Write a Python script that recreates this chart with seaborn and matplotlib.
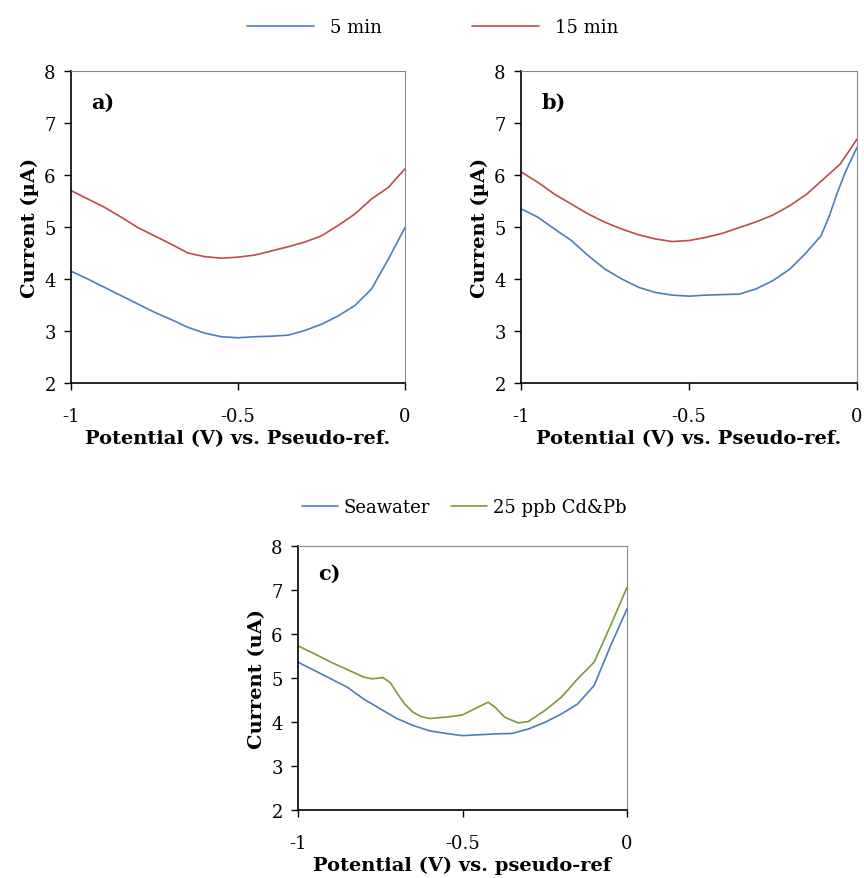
import matplotlib
matplotlib.use("Agg")
import matplotlib.pyplot as plt
import seaborn as sns
import pandas as pd

# potential grid used for the readings (V)
x_std = [-1.0, -0.95, -0.9, -0.85, -0.8, -0.75, -0.7, -0.65, -0.6, -0.55, -0.5,
         -0.45, -0.4, -0.35, -0.3, -0.25, -0.2, -0.15, -0.1, -0.05, 0.0]

# panel a)
a_5min = [4.15, 4.00, 3.84, 3.68, 3.52, 3.36, 3.22, 3.07, 2.96, 2.89, 2.87,
          2.89, 2.90, 2.92, 3.01, 3.13, 3.29, 3.49, 3.81, 4.38, 4.99]
a_15min = [5.70, 5.54, 5.38, 5.19, 4.99, 4.83, 4.67, 4.50, 4.43, 4.40, 4.42,
           4.46, 4.54, 4.62, 4.71, 4.83, 5.03, 5.25, 5.54, 5.76, 6.12]

# panel b)
x_b5 = [-1.0, -0.95, -0.9, -0.85, -0.8, -0.75, -0.7, -0.65, -0.6, -0.55, -0.5,
        -0.45, -0.4, -0.35, -0.3, -0.25, -0.2, -0.155, -0.107, -0.082, -0.058, -0.033, 0.0]
b_5min = [5.35, 5.19, 4.96, 4.74, 4.45, 4.19, 4.00, 3.84, 3.74, 3.69, 3.67,
          3.69, 3.70, 3.71, 3.81, 3.97, 4.19, 4.48, 4.83, 5.22, 5.67, 6.08, 6.53]
b_15min = [6.06, 5.86, 5.63, 5.44, 5.25, 5.09, 4.96, 4.85, 4.77, 4.72, 4.74,
           4.80, 4.88, 4.99, 5.10, 5.23, 5.41, 5.63, 5.92, 6.21, 6.69]

# panel c)
c_sea = [5.36, 5.17, 4.98, 4.79, 4.52, 4.30, 4.08, 3.92, 3.80, 3.74, 3.69,
         3.71, 3.73, 3.74, 3.84, 3.99, 4.18, 4.41, 4.83, 5.73, 6.57]
x_c_spk = [-1.0, -0.95, -0.9, -0.85, -0.8, -0.775, -0.742, -0.72, -0.7, -0.676, -0.65,
           -0.625, -0.6, -0.55, -0.5, -0.463, -0.422, -0.4, -0.372, -0.331, -0.3,
           -0.25, -0.2, -0.15, -0.1, -0.05, 0.0]
c_spk = [5.73, 5.55, 5.36, 5.19, 5.02, 4.98, 5.01, 4.90, 4.67, 4.41, 4.22,
         4.12, 4.08, 4.11, 4.16, 4.30, 4.45, 4.33, 4.11, 3.98, 4.01,
         4.26, 4.56, 4.98, 5.36, 6.19, 7.06]

BLUE = "#4A7EBB"
RED = "#BE4B48"
GREEN = "#7A9A3A"

sns.set_style("ticks")
plt.rcParams["font.family"] = ["DejaVu Serif"]
plt.rcParams["text.color"] = "black"
plt.rcParams["axes.labelcolor"] = "black"
plt.rcParams["xtick.color"] = "black"
plt.rcParams["ytick.color"] = "black"

fig = plt.figure(figsize=(8.64, 8.79), dpi=100)

ax_a = fig.add_axes([71 / 864, 1 - 384 / 879, 334 / 864, 312 / 879])
ax_b = fig.add_axes([521 / 864, 1 - 384 / 879, 336 / 864, 312 / 879])
ax_c = fig.add_axes([298 / 864, 1 - 811 / 879, 329 / 864, 264 / 879])


def panel(ax, series, tag, ylab, xlab):
    for xs, ys, color, name in series:
        df = pd.DataFrame({"x": xs, "y": ys})
        sns.lineplot(data=df, x="x", y="y", ax=ax, color=color, lw=1.2, label=name)
    ax.set_xlim(-1, 0)
    ax.set_ylim(2, 8)
    ax.set_xticks([-1, -0.5, 0])
    ax.set_xticklabels(["-1", "-0.5", "0"])
    ax.set_yticks(range(2, 9))
    ax.tick_params(labelsize=13, length=5, width=1, direction="out", pad=12)
    ax.tick_params(axis="y", pad=6)
    ax.set_xlabel(xlab, fontsize=14, fontweight="bold", labelpad=3)
    ax.set_ylabel(ylab, fontsize=14, fontweight="bold", labelpad=4)
    for s in ["top", "right"]:
        ax.spines[s].set_visible(True)
        ax.spines[s].set_color("#888888")
    for s in ["left", "bottom"]:
        ax.spines[s].set_color("black")
        ax.spines[s].set_linewidth(1.2)
    ax.text(0.06, 0.9, tag, transform=ax.transAxes, fontsize=15, fontweight="bold",
            va="center", ha="left")
    ax.get_legend().remove()


panel(ax_a, [(x_std, a_5min, BLUE, "5 min"), (x_std, a_15min, RED, "15 min")],
      "a)", "Current (µA)", "Potential (V) vs. Pseudo-ref.")
panel(ax_b, [(x_b5, b_5min, BLUE, "5 min"), (x_std, b_15min, RED, "15 min")],
      "b)", "Current (µA)", "Potential (V) vs. Pseudo-ref.")
panel(ax_c, [(x_std, c_sea, BLUE, "Seawater"), (x_c_spk, c_spk, GREEN, "25 ppb Cd&Pb")],
      "c)", "Current (uA)", "Potential (V) vs. pseudo-ref")

h, l = ax_a.get_legend_handles_labels()
fig.legend(h, l, loc="center", bbox_to_anchor=(433 / 864, 1 - 28 / 879), ncol=2,
           frameon=False, fontsize=13, handlelength=3.7, columnspacing=5, handletextpad=0.9)

h, l = ax_c.get_legend_handles_labels()
fig.legend(h, l, loc="center", bbox_to_anchor=(464 / 864, 1 - 508 / 879), ncol=2,
           frameon=False, fontsize=13, handlelength=2.0, columnspacing=1.2, handletextpad=0.3)

fig.savefig("out.png", dpi=100)
